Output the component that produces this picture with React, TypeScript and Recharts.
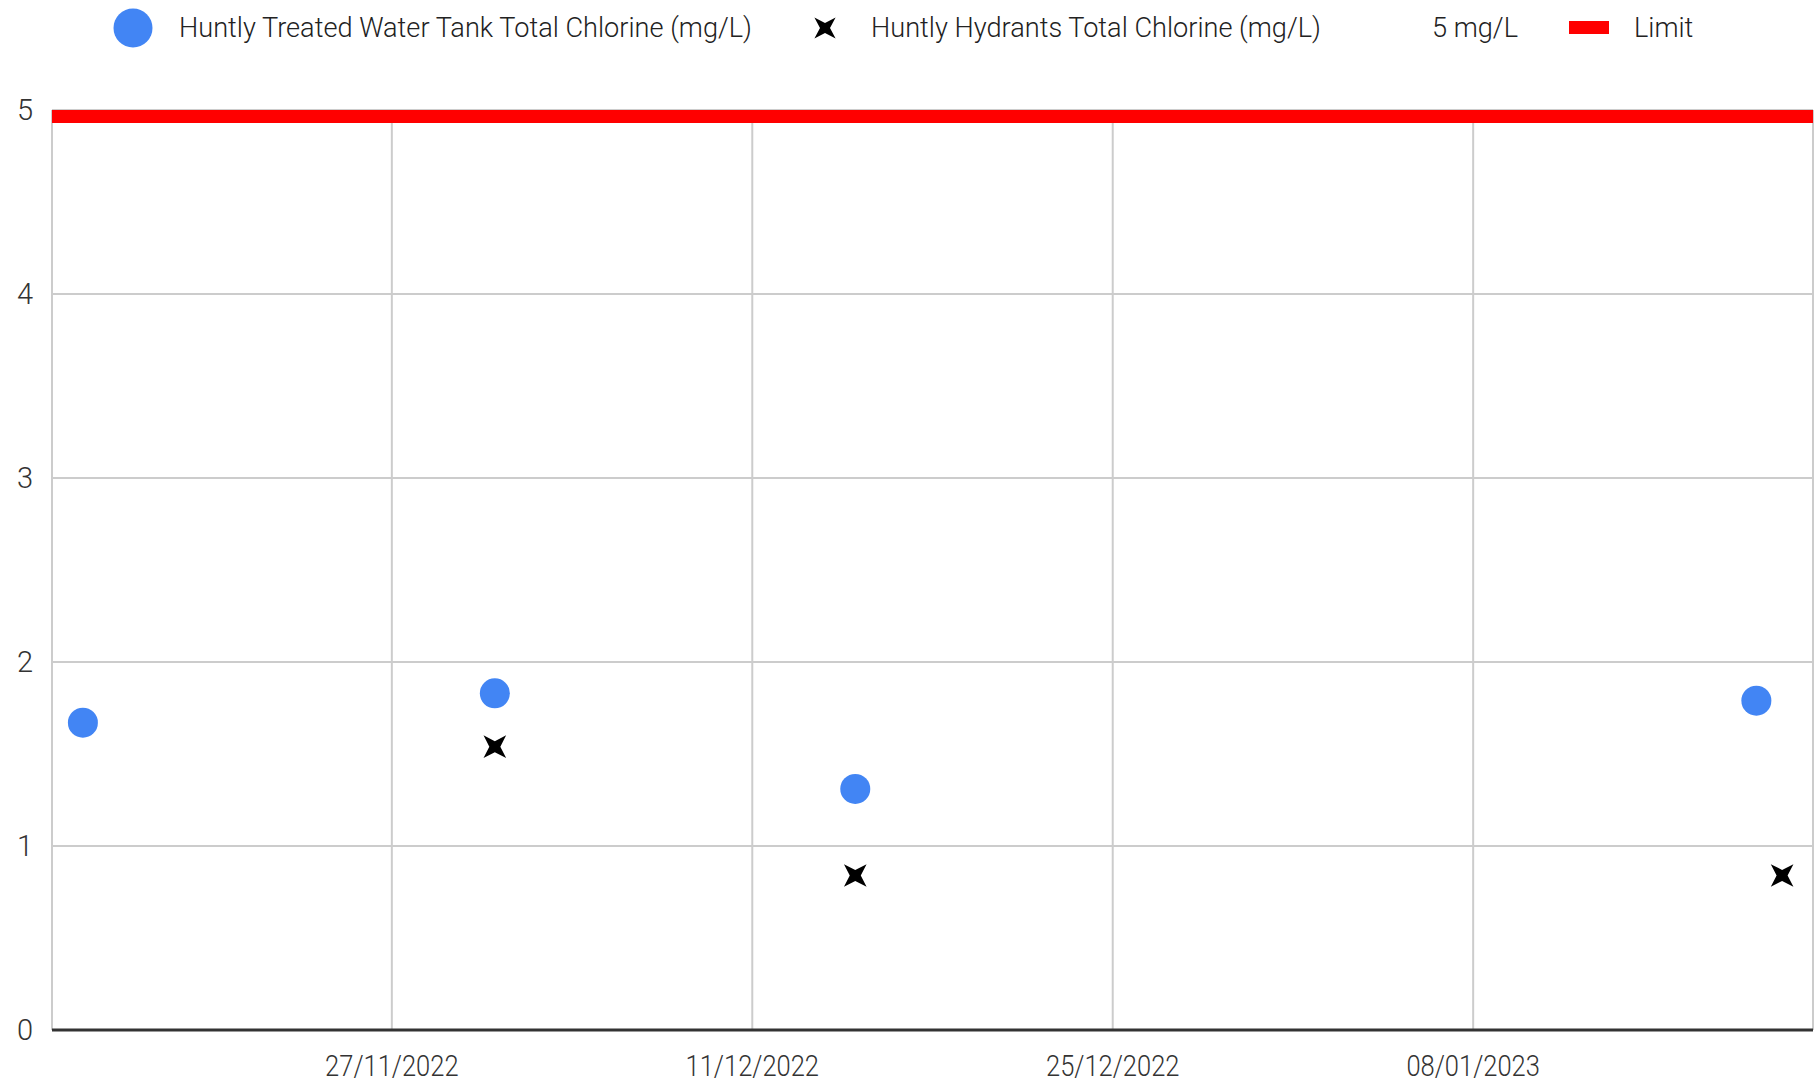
import * as React from 'react';
import { ScatterChart, Scatter, XAxis, YAxis, CartesianGrid, ReferenceLine, Legend } from 'recharts';

// sample dates and readings
const tankDates = ['2022-11-15', '2022-12-01', '2022-12-15', '2023-01-19'];
const tankValues = [1.67, 1.83, 1.31, 1.79];
const hydrantDates = ['2022-12-01', '2022-12-15', '2023-01-20'];
const hydrantValues = [1.54, 0.84, 0.84];
const limitValue = 5;

const xTickDates = ['2022-11-27', '2022-12-11', '2022-12-25', '2023-01-08'];
const yTicks = [0, 1, 2, 3, 4, 5];

const tankName = 'Huntly Treated Water Tank Total Chlorine (mg/L)';
const hydrantName = 'Huntly Hydrants Total Chlorine (mg/L)';
const limitLabel = '5 mg/L';
const limitName = 'Limit';

const DAY = 86400000;
const toMs = (s: string) => Date.parse(s + 'T00:00:00Z');

const tankData = tankDates.map((d, i) => ({ x: toMs(d), y: tankValues[i] }));
const hydrantData = hydrantDates.map((d, i) => ({ x: toMs(d), y: hydrantValues[i] }));
const xTicks = xTickDates.map(toMs);

const allX = [...tankData, ...hydrantData].map((p) => p.x);
const xDomain = [Math.min(...allX) - 1.2 * DAY, Math.max(...allX) + 1.2 * DAY];

const fmtDate = (v: number) => {
    const d = new Date(v);
    const dd = String(d.getUTCDate()).padStart(2, '0');
    const mm = String(d.getUTCMonth() + 1).padStart(2, '0');
    return `${dd}/${mm}/${d.getUTCFullYear()}`;
};

const FONT = 'Roboto, sans-serif';
const TEXT = '#333333';
const WEIGHT = 300;

function starPath(cx: number, cy: number, R: number, r: number) {
    const pts: string[] = [];
    for (let k = 0; k < 8; k++) {
        const a = (Math.PI / 4) * k + Math.PI / 4;
        const rad = k % 2 === 0 ? R : r;
        pts.push(`${cx + rad * Math.cos(a)},${cy + rad * Math.sin(a)}`);
    }
    return 'M' + pts.join('L') + 'Z';
}

const Dot = (props: any) => <circle cx={props.cx} cy={props.cy} r={15} fill="#4285F4" />;
const Star = (props: any) => <path d={starPath(props.cx, props.cy, 16, 5.5)} fill="#000" />;

// google draws the thick limit line clipped to the plot, so only the lower half shows
const LimitBand = (props: any) => (
    <rect x={props.x1} y={props.y1} width={props.x2 - props.x1} height={13} fill="#ff0000" />
);

const DateTick = (props: any) => (
    <g transform={`translate(${props.x},${props.y})`}>
        <text textAnchor="middle" dy="0.71em" transform="scale(0.88,1)" fontFamily={FONT} fontWeight={WEIGHT} fontSize={29} fill={TEXT}>
            {fmtDate(props.payload.value)}
        </text>
    </g>
);

function ChartLegend() {
    const label: React.CSSProperties = {
        position: 'absolute', top: 0, lineHeight: '40px', fontFamily: FONT, fontSize: 28, fontWeight: WEIGHT,
        color: '#222', whiteSpace: 'nowrap', transform: 'scaleX(0.97)', transformOrigin: 'left center',
    };
    const icon: React.CSSProperties = { position: 'absolute', top: 0 };
    return (
        <div style={{ position: 'relative', height: 40, width: 1820 }}>
            <svg style={{ ...icon, left: 113 }} width={40} height={40}>
                <circle cx={20} cy={20} r={19.5} fill="#4285F4" />
            </svg>
            <span style={{ ...label, left: 179 }}>{tankName}</span>
            <svg style={{ ...icon, left: 810 }} width={30} height={40}>
                <path d={starPath(15, 20, 15, 5)} fill="#000" />
            </svg>
            <span style={{ ...label, left: 871 }}>{hydrantName}</span>
            <span style={{ ...label, left: 1432 }}>{limitLabel}</span>
            <svg style={{ ...icon, left: 1569 }} width={40} height={40}>
                <rect x={0} y={13} width={40} height={13} fill="#ff0000" />
            </svg>
            <span style={{ ...label, left: 1634 }}>{limitName}</span>
        </div>
    );
}

export default function App() {
    return (
        <div style={{ position: 'absolute', left: 0, top: 0, background: '#fff' }}>
            <ScatterChart width={1820} height={1086} margin={{ top: 110, right: 7, left: 0, bottom: 0 }}>
                <CartesianGrid stroke="#cccccc" strokeWidth={2} />
                <XAxis
                    type="number"
                    dataKey="x"
                    domain={xDomain}
                    ticks={xTicks}
                    height={56}
                    axisLine={{ stroke: '#333', strokeWidth: 3 }}
                    tickLine={false}
                    tickSize={0}
                    tickMargin={25}
                    tick={DateTick}
                />
                <YAxis
                    type="number"
                    dataKey="y"
                    domain={[0, 5]}
                    ticks={yTicks}
                    width={52}
                    axisLine={false}
                    tickLine={false}
                    tickSize={0}
                    tickMargin={19}
                    tick={{ fontFamily: FONT, fontWeight: WEIGHT, fontSize: 29, fill: TEXT }}
                />
                <ReferenceLine y={limitValue} shape={LimitBand} ifOverflow="visible" />
                <Scatter name={tankName} data={tankData} shape={Dot} isAnimationActive={false} />
                <Scatter name={hydrantName} data={hydrantData} shape={Star} isAnimationActive={false} />
                <Legend
                    layout="horizontal"
                    verticalAlign="middle"
                    align="center"
                    content={ChartLegend}
                    wrapperStyle={{ top: 8, left: 0, width: 1820 }}
                />
            </ScatterChart>
        </div>
    );
}
